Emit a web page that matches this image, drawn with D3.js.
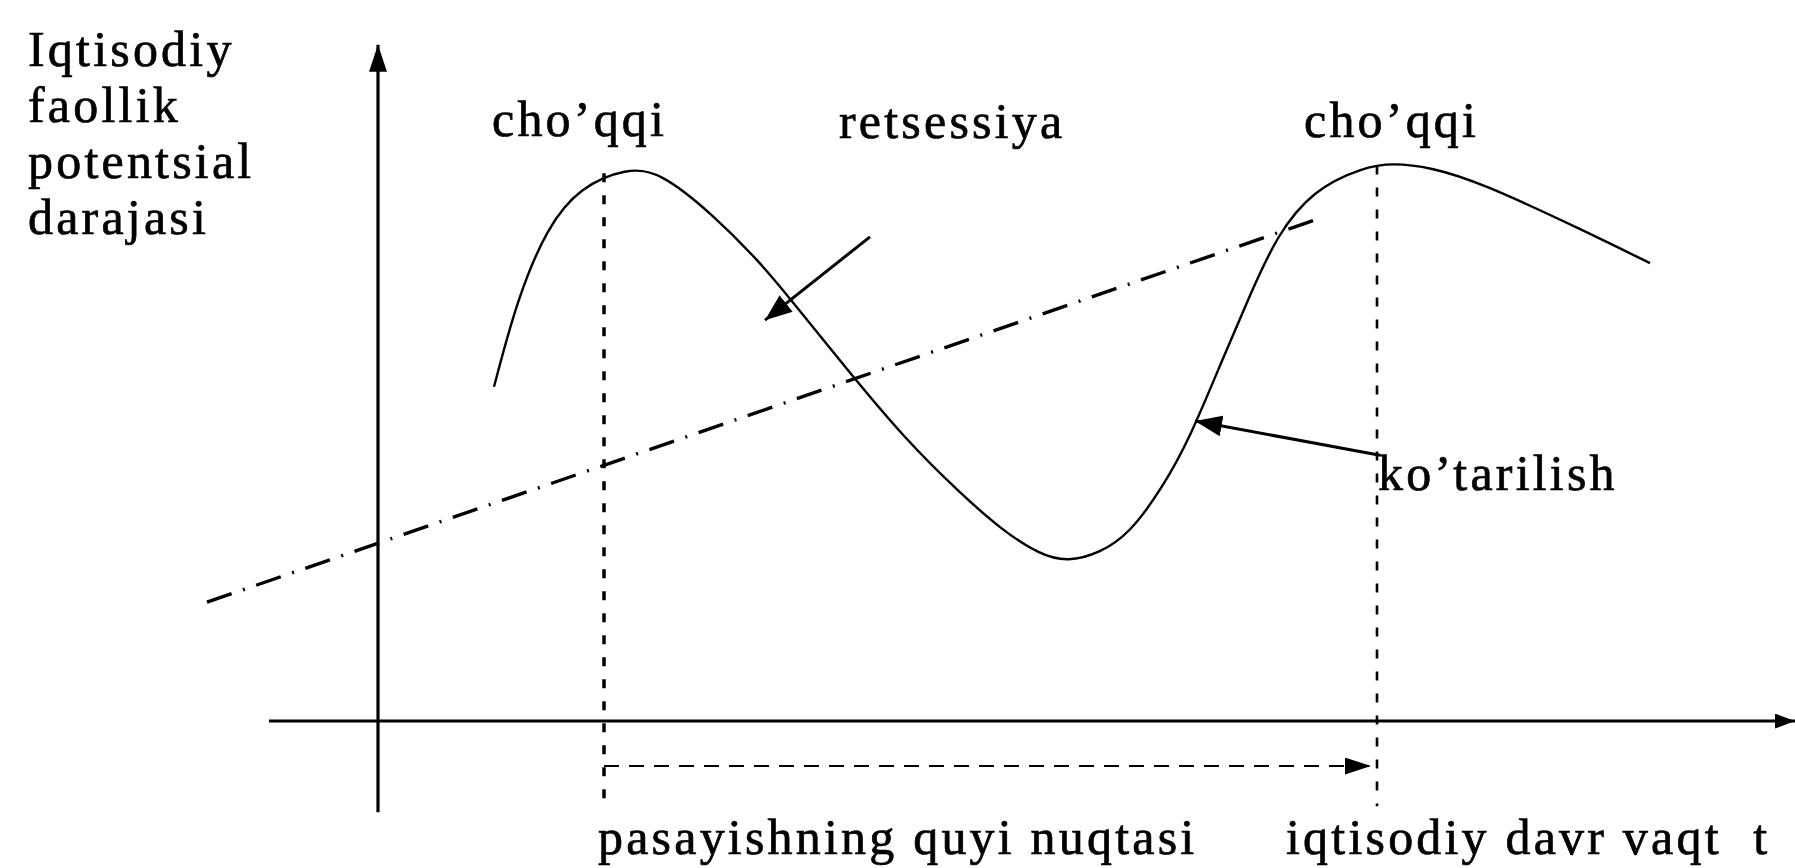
<!DOCTYPE html>
<html>
<head>
<meta charset="utf-8">
<script src="https://d3js.org/d3.v7.min.js"></script>
<style>
  body { margin: 0; background: #fff; }
  text { font-family: "Liberation Serif", "Times New Roman", serif; fill: #000; }
</style>
</head>
<body>
<svg id="chart" width="1795" height="868"></svg>
<script>
  // business cycle curve (time t, activity level)
  var cycleT = [1.16, 1.39, 1.69, 2.02, 2.49, 2.82, 3.33, 3.83, 4.13, 4.67, 5.28, 5.82, 6.24, 6.62, 6.90,
                7.22, 7.52, 7.84, 8.11, 8.45, 8.72, 8.99, 9.35, 9.85, 10.15, 10.52, 11.02, 12.05, 12.72];
  var cycleV = [5.57, 7.02, 8.23, 8.90, 9.22, 9.15, 8.47, 7.63, 7.02, 5.90, 4.68, 3.80, 3.18, 2.77, 2.65,
                2.80, 3.13, 3.88, 4.68, 6.05, 7.10, 8.10, 8.85, 9.23, 9.30, 9.23, 8.98, 8.18, 7.63];
  // potential level trend (dash-dot)
  var trendT = [-1.71, 9.42];
  var trendV = [1.98, 8.38];
  // peaks
  var peakT = [2.26, 9.99];
  var peakV = [9.13, 9.26];
  // labels
  var yLabel = ["Iqtisodiy", "faollik", "potentsial", "darajasi"];
  var peakLabel = "cho\u2019qqi";
  var recessionLabel = "retsessiya";
  var expansionLabel = "ko\u2019tarilish";
  var troughLabel = "pasayishning quyi nuqtasi";
  var timeLabel = "iqtisodiy davr vaqt  t";

  var svg = d3.select("#chart");
  var x = d3.scaleLinear().domain([0, 10]).range([378, 1378]);
  var y = d3.scaleLinear().domain([0, 10]).range([721, 121]);

  var defs = svg.append("defs");
  function marker(id, w, h) {
    defs.append("marker").attr("id", id)
      .attr("viewBox", "0 0 " + w + " " + h)
      .attr("markerWidth", w).attr("markerHeight", h)
      .attr("refX", w).attr("refY", h / 2)
      .attr("orient", "auto").attr("markerUnits", "userSpaceOnUse")
      .append("path").attr("d", "M0,0L" + w + "," + (h / 2) + "L0," + h + "Z").attr("fill", "#000");
  }
  marker("arrAxis", 27, 18);
  marker("arrX", 20, 15);
  marker("arrSmall", 26, 17);
  marker("arrNote", 27, 21);

  // axes
  svg.append("line")
    .attr("x1", x(0)).attr("x2", x(0))
    .attr("y1", y(-1.52)).attr("y2", y(11.27))
    .attr("stroke", "#000").attr("stroke-width", 3.2)
    .attr("marker-end", "url(#arrAxis)");
  svg.append("line")
    .attr("x1", x(-1.09)).attr("x2", x(14.17))
    .attr("y1", y(0)).attr("y2", y(0))
    .attr("stroke", "#000").attr("stroke-width", 3.2)
    .attr("marker-end", "url(#arrX)");

  // trend line
  svg.append("line")
    .attr("x1", x(trendT[0])).attr("y1", y(trendV[0]))
    .attr("x2", x(trendT[1])).attr("y2", y(trendV[1]))
    .attr("stroke", "#000").attr("stroke-width", 3.4)
    .attr("stroke-dasharray", "26,12,2,12");

  // cycle curve
  var line = d3.line()
    .x(function(d, i) { return x(cycleT[i]); })
    .y(function(d, i) { return y(cycleV[i]); })
    .curve(d3.curveBasis);
  svg.append("path")
    .attr("d", line(cycleT))
    .attr("fill", "none").attr("stroke", "#000").attr("stroke-width", 2.4);

  // dotted verticals through peaks
  peakT.forEach(function(t, i) {
    svg.append("line")
      .attr("x1", x(t)).attr("x2", x(t))
      .attr("y1", y(peakV[i])).attr("y2", y(-1.42))
      .attr("stroke", "#000").attr("stroke-width", i === 0 ? 3.5 : 2.6)
      .attr("stroke-dasharray", "9,13");
  });

  // cycle length arrow
  svg.append("line")
    .attr("x1", x(peakT[0])).attr("x2", x(peakT[1]) - 6)
    .attr("y1", y(-0.75)).attr("y2", y(-0.75))
    .attr("stroke", "#000").attr("stroke-width", 2)
    .attr("stroke-dasharray", "15,10")
    .attr("marker-end", "url(#arrSmall)");

  // annotation arrows
  svg.append("line")
    .attr("x1", x(4.92)).attr("y1", y(8.07))
    .attr("x2", x(3.87)).attr("y2", y(6.68))
    .attr("stroke", "#000").attr("stroke-width", 3)
    .attr("marker-end", "url(#arrNote)");
  svg.append("line")
    .attr("x1", x(10.02)).attr("y1", y(4.43))
    .attr("x2", x(8.17)).attr("y2", y(5.0))
    .attr("stroke", "#000").attr("stroke-width", 3)
    .attr("marker-end", "url(#arrNote)");

  // texts
  function label(str, px, py) {
    return svg.append("text")
      .attr("x", px).attr("y", py)
      .attr("font-size", 50)
      .attr("letter-spacing", 3.2)
      .attr("stroke", "#000").attr("stroke-width", 0.7)
      .style("white-space", "pre")
      .text(str);
  }
  yLabel.forEach(function(s, i) { label(s, 28, 66 + i * 56); });
  label(peakLabel, x(peakT[0]) - 112, 136);
  label(peakLabel, x(peakT[1]) - 73, 137);
  label(recessionLabel, 839, 138);
  label(expansionLabel, x(peakT[1]) + 1, 490);
  label(troughLabel, x(peakT[0]) - 6, 854);
  label(timeLabel, x(peakT[1]) - 91, 854);
</script>
</body>
</html>
